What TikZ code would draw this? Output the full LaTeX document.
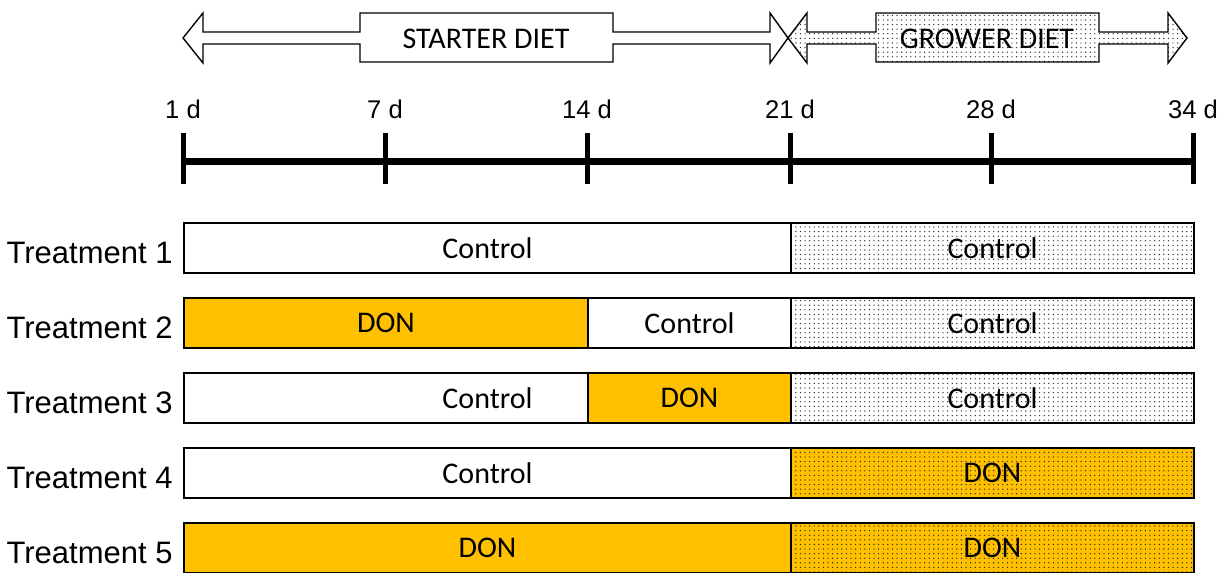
\documentclass[tikz,border=0pt]{standalone}
\usepackage{fontspec}
\setmainfont{Liberation Sans}
\newfontfamily\calibri{Carlito}
\usetikzlibrary{patterns.meta, positioning}
\definecolor{donorange}{HTML}{FFC000}
\tikzset{
  seg/.style={draw, line width=1pt, anchor=west, minimum height=25pt, inner sep=0pt,
    font=\calibri\fontsize{15}{18}\selectfont},
  control/.style={seg, fill=white},
  don/.style={seg, fill=donorange},
  dotted grower/.style={pattern={Dots[distance=2.3pt, radius=0.35pt]}, pattern color=black!85},
  grower control/.style={seg, dotted grower},
  grower don/.style={seg, preaction={fill=donorange}, dotted grower},
  dietarrow/.style={draw, line width=0.7pt, line join=miter},
  dietlabel/.style={font=\calibri\fontsize{15}{18}\selectfont},
  daylabel/.style={font=\fontsize{12.8}{15}\selectfont},
  trt/.style={anchor=east, inner sep=0pt, font=\fontsize{15.5}{18}\selectfont},
}
\begin{document}
\begin{tikzpicture}[x=0.5pt, y=-0.5pt]
  \useasboundingbox (0,0) rectangle (1229,572);
  % diet arrows
  \draw[dietarrow, fill=white] (183,38) -- (203,13) -- (203,32) -- (360,32) -- (360,13) -- (613,13)
    -- (613,32) -- (770,32) -- (770,13) -- (788,38) -- (770,63) -- (770,44) -- (613,44)
    -- (613,62) -- (360,62) -- (360,44) -- (203,44) -- (203,63) -- cycle;
  \draw[dietarrow, dotted grower] (788,38) -- (807,13) -- (807,32) -- (876,32) -- (876,13) -- (1099,13)
    -- (1099,32) -- (1168,32) -- (1168,13) -- (1187,38) -- (1168,63) -- (1168,44) -- (1099,44)
    -- (1099,62) -- (876,62) -- (876,44) -- (807,44) -- (807,63) -- cycle;
  \node[dietlabel] (starter) at (486,39) {STARTER DIET};
  \node[dietlabel] (grower) at (987,39) {GROWER DIET};
  % time line
  \draw[line width=3.5pt] (183,162) -- (1193,162);
  \foreach \X/\D in {183/1, 385/7, 587/14, 790/21, 991/28, 1193/34} {
    \draw[line width=2.5pt] (\X,133) -- (\X,184);
    \node[daylabel] (day\D) at (\X,109) {\D~d};
  }
  % treatments
  \foreach \Y [count=\N] in {248,323,398,473,548}
    \node[trt] (trt\N) at (173,\Y+5) {Treatment \N};
  \node[control, minimum width=303.5pt] (t1a) at (183,248) {Control};
  \node[grower control, minimum width=201.5pt] (t1b) at (790,248) {Control};
  \node[don, minimum width=202pt] (t2a) at (183,323) {DON};
  \node[control, minimum width=101.5pt] (t2b) at (587,323) {Control};
  \node[grower control, minimum width=201.5pt] (t2c) at (790,323) {Control};
  \node[control, minimum width=303.5pt] (t3a) at (183,398) {Control};
  \node[don, minimum width=101.5pt] (t3b) at (587,398) {DON};
  \node[grower control, minimum width=201.5pt] (t3c) at (790,398) {Control};
  \node[control, minimum width=303.5pt] (t4a) at (183,473) {Control};
  \node[grower don, minimum width=201.5pt] (t4b) at (790,473) {DON};
  \node[don, minimum width=303.5pt] (t5a) at (183,548) {DON};
  \node[grower don, minimum width=201.5pt] (t5b) at (790,548) {DON};
\end{tikzpicture}
\end{document}
